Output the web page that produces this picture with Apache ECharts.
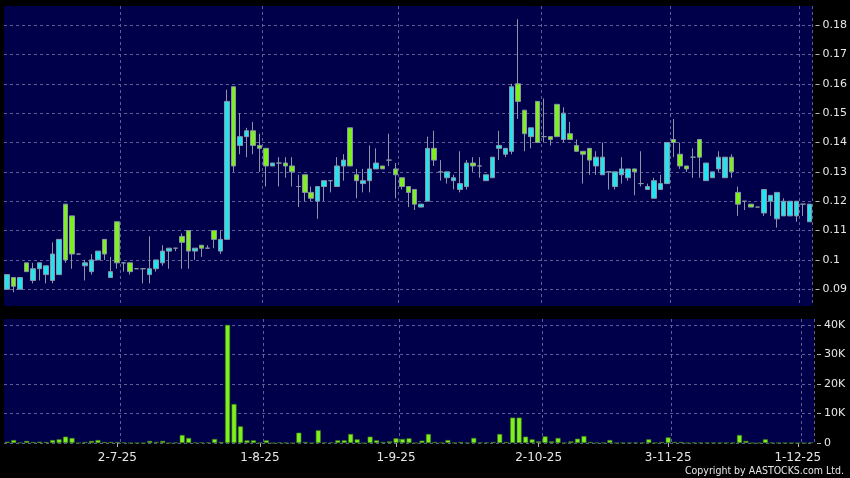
<!DOCTYPE html>
<html><head><meta charset="utf-8">
<script src="https://cdn.jsdelivr.net/npm/echarts@6/dist/echarts.min.js"></script>
<style>html,body{margin:0;padding:0;background:#000;}#c{width:850px;height:478px;}</style>
</head><body><div id="c"></div>
<script>
// Trading days (d-m-yy)
const dates = [
 '6-6-25','9-6-25','10-6-25','11-6-25','12-6-25','13-6-25','16-6-25','17-6-25','18-6-25','19-6-25','20-6-25','23-6-25','24-6-25','25-6-25','26-6-25','27-6-25','30-6-25',
 '2-7-25','3-7-25','4-7-25','7-7-25','8-7-25','9-7-25','10-7-25','11-7-25','14-7-25','15-7-25','16-7-25','17-7-25','18-7-25','21-7-25','22-7-25','23-7-25','24-7-25','25-7-25','28-7-25','29-7-25','30-7-25','31-7-25',
 '1-8-25','4-8-25','5-8-25','6-8-25','7-8-25','8-8-25','11-8-25','12-8-25','13-8-25','14-8-25','15-8-25','18-8-25','19-8-25','20-8-25','21-8-25','22-8-25','25-8-25','26-8-25','27-8-25','28-8-25','29-8-25',
 '1-9-25','2-9-25','3-9-25','4-9-25','5-9-25','8-9-25','9-9-25','10-9-25','11-9-25','12-9-25','15-9-25','16-9-25','17-9-25','18-9-25','19-9-25','22-9-25','23-9-25','24-9-25','25-9-25','26-9-25','29-9-25','30-9-25',
 '2-10-25','3-10-25','6-10-25','8-10-25','9-10-25','10-10-25','13-10-25','14-10-25','15-10-25','16-10-25','17-10-25','20-10-25','21-10-25','22-10-25','23-10-25','24-10-25','27-10-25','28-10-25','30-10-25','31-10-25',
 '3-11-25','4-11-25','5-11-25','6-11-25','7-11-25','10-11-25','11-11-25','12-11-25','13-11-25','14-11-25','17-11-25','18-11-25','19-11-25','20-11-25','21-11-25','24-11-25','25-11-25','26-11-25','27-11-25','28-11-25',
 '1-12-25','2-12-25','3-12-25'
];
const opens = [
 0.090,0.094,0.090,0.099,0.093,0.097,0.095,0.093,0.095,0.119,0.115,0.102,0.098,0.096,0.100,0.107,0.094,
 0.113,0.099,0.099,0.097,0.097,0.095,0.097,0.099,0.103,0.104,0.108,0.110,0.103,0.105,0.104,0.110,0.103,0.107,0.159,0.139,0.142,0.144,
 0.139,0.138,0.132,0.133,0.133,0.132,0.125,0.129,0.123,0.120,0.125,0.127,0.125,0.132,0.145,0.129,0.126,0.127,0.131,0.132,0.134,
 0.131,0.128,0.125,0.124,0.118,0.120,0.138,0.130,0.128,0.127,0.124,0.125,0.133,0.132,0.127,0.128,0.138,0.136,0.137,0.160,0.151,0.142,
 0.154,0.142,0.142,0.153,0.141,0.143,0.139,0.137,0.138,0.132,0.129,0.130,0.125,0.129,0.128,0.131,0.126,0.124,0.121,0.124,
 0.126,0.141,0.136,0.132,0.135,0.141,0.127,0.128,0.131,0.128,0.135,0.123,0.120,0.119,0.118,0.116,0.120,0.114,0.115,0.115,
 0.115,0.119,0.113
];
const closes = [
 0.095,0.091,0.094,0.096,0.097,0.099,0.098,0.102,0.107,0.100,0.102,0.102,0.099,0.100,0.103,0.102,0.096,
 0.099,0.099,0.096,0.097,0.097,0.097,0.100,0.103,0.104,0.104,0.106,0.103,0.104,0.104,0.104,0.107,0.107,0.154,0.132,0.142,0.144,0.139,
 0.138,0.132,0.133,0.133,0.132,0.130,0.125,0.123,0.121,0.125,0.127,0.127,0.132,0.134,0.132,0.127,0.127,0.131,0.133,0.131,0.134,
 0.129,0.125,0.123,0.119,0.119,0.138,0.134,0.130,0.130,0.128,0.126,0.133,0.132,0.132,0.129,0.135,0.139,0.138,0.159,0.154,0.143,0.145,
 0.140,0.142,0.141,0.142,0.150,0.141,0.137,0.136,0.134,0.135,0.135,0.130,0.130,0.131,0.131,0.130,0.126,0.125,0.127,0.126,
 0.140,0.140,0.132,0.131,0.135,0.135,0.133,0.130,0.135,0.135,0.130,0.119,0.120,0.118,0.118,0.124,0.122,0.123,0.120,0.120,
 0.120,0.119,0.119
];
const lows = [
 0.090,0.089,0.090,0.096,0.092,0.093,0.092,0.092,0.095,0.099,0.097,0.102,0.093,0.095,0.100,0.100,0.094,
 0.097,0.096,0.095,0.097,0.092,0.092,0.096,0.098,0.097,0.103,0.097,0.097,0.100,0.101,0.104,0.104,0.102,0.107,0.130,0.136,0.135,0.136,
 0.130,0.125,0.132,0.125,0.128,0.125,0.118,0.120,0.120,0.114,0.120,0.123,0.125,0.127,0.132,0.121,0.123,0.123,0.131,0.131,0.132,
 0.121,0.124,0.118,0.117,0.118,0.120,0.132,0.127,0.126,0.124,0.123,0.124,0.130,0.128,0.127,0.128,0.134,0.135,0.136,0.148,0.137,0.138,
 0.140,0.140,0.139,0.142,0.140,0.141,0.137,0.126,0.129,0.129,0.129,0.124,0.124,0.126,0.127,0.122,0.125,0.124,0.121,0.124,
 0.126,0.135,0.131,0.130,0.128,0.128,0.127,0.128,0.130,0.128,0.128,0.115,0.117,0.118,0.118,0.115,0.115,0.111,0.115,0.115,
 0.113,0.115,0.113
];
const highs = [
 0.095,0.094,0.094,0.099,0.099,0.099,0.098,0.106,0.107,0.119,0.115,0.102,0.100,0.102,0.103,0.107,0.101,
 0.113,0.099,0.099,0.097,0.097,0.108,0.100,0.105,0.104,0.104,0.109,0.110,0.104,0.105,0.105,0.110,0.110,0.158,0.159,0.150,0.145,0.147,
 0.143,0.138,0.133,0.135,0.135,0.135,0.129,0.129,0.125,0.125,0.127,0.127,0.135,0.136,0.145,0.131,0.131,0.139,0.138,0.132,0.143,
 0.133,0.128,0.125,0.124,0.119,0.142,0.144,0.134,0.130,0.129,0.137,0.134,0.135,0.135,0.129,0.135,0.144,0.138,0.160,0.182,0.151,0.145,
 0.154,0.155,0.142,0.153,0.152,0.147,0.141,0.137,0.138,0.137,0.140,0.130,0.130,0.135,0.131,0.131,0.137,0.126,0.128,0.129,
 0.140,0.148,0.140,0.132,0.138,0.141,0.133,0.130,0.137,0.135,0.136,0.125,0.120,0.119,0.118,0.124,0.122,0.123,0.121,0.120,
 0.120,0.119,0.119
];
const volumes = [
 450,1000,200,700,350,450,350,1000,1250,2150,1700,0,350,700,1000,350,350,
 350,200,0,0,0,700,350,700,0,150,2700,1700,200,200,200,1350,350,40000,13200,5650,900,900,
 100,900,0,200,100,0,3500,350,0,4300,200,200,900,900,3050,1250,0,2150,900,350,550,
 1600,1350,1600,0,800,3050,350,200,1000,100,350,100,1700,200,200,350,3050,350,8600,8600,2150,1250,
 550,2250,550,1700,100,550,1450,2350,350,100,100,1000,0,100,100,200,100,1250,100,350,
 1900,350,350,0,100,100,100,100,100,100,100,2700,700,0,0,1250,100,100,0,0,
 0,0,200
];
const dateLabels = ['2-7-25','1-8-25','1-9-25','2-10-25','3-11-25','1-12-25'];
const priceTicks = [0.09,0.10,0.11,0.12,0.13,0.14,0.15,0.16,0.17,0.18];
const volumeTicks = [0,10000,20000,30000,40000];

const candles = dates.map((d,i)=>[opens[i],closes[i],lows[i],highs[i]]);
const isLabel = i => i >= 0 && i < dates.length && dateLabels.includes(dates[i]);

const NAVY = '#00004a';
const GRIDC = '#5e5e96';
const TXT = '#e6e6e6';
const FONT = 'DejaVu Sans';
const dashed = {show:true, interval:(i)=>isLabel(i-1), lineStyle:{color:GRIDC, type:[3,3], width:1}};
const hDashed = {show:true, lineStyle:{color:GRIDC, type:[3,3], width:1}};

const chart = echarts.init(document.getElementById('c'), null, {renderer:'canvas'});
chart.setOption({
  backgroundColor:'#000000',
  animation:false,
  grid:[
    {left:4, right:36, top:6, height:300, show:true, backgroundColor:NAVY, borderWidth:0},
    {left:4, right:36, top:319, height:124, show:true, backgroundColor:NAVY, borderWidth:0}
  ],
  xAxis:[
    {type:'category', gridIndex:0, data:dates, boundaryGap:true,
     axisLine:{show:false}, axisTick:{show:false}, axisLabel:{show:false}, splitLine:dashed},
    {type:'category', gridIndex:1, data:dates, boundaryGap:true, offset:3,
     axisLine:{show:false},
     axisTick:{show:true, alignWithLabel:true, interval:(i)=>isLabel(i), length:4, lineStyle:{color:'#b4b4b4'}},
     axisLabel:{interval:(i,v)=>dateLabels.includes(v), color:TXT, fontSize:12, fontFamily:FONT, margin:6},
     splitLine:dashed}
  ],
  yAxis:[
    {type:'value', gridIndex:0, position:'right', min:0.0843, max:0.1865, splitNumber:10, offset:3,
     axisLine:{show:false},
     axisTick:{show:true, length:4, customValues:priceTicks, lineStyle:{color:'#b4b4b4'}},
     axisLabel:{customValues:priceTicks, color:TXT, fontSize:11, fontFamily:FONT, margin:7},
     splitLine:hDashed},
    {type:'value', gridIndex:1, position:'right', min:0, max:42000, offset:3,
     axisLine:{show:false},
     axisTick:{show:true, length:4, customValues:volumeTicks, lineStyle:{color:'#b4b4b4'}},
     axisLabel:{customValues:volumeTicks, color:TXT, fontSize:11, fontFamily:FONT, margin:7,
       formatter:v=> v===0 ? '0' : (v/1000)+'K'},
     splitLine:hDashed}
  ],
  series:[
    {type:'candlestick', xAxisIndex:0, yAxisIndex:0, data:candles, barWidth:5,
     itemStyle:{color:'#22e4f0', color0:'#7ef01e', borderColor:'#8a96a6', borderColor0:'#8a96a6', borderColorDoji:'#8a96a6', borderWidth:1}},
    {type:'bar', xAxisIndex:1, yAxisIndex:1, data:volumes, barWidth:5,
     itemStyle:{color:'#7ef01e', borderColor:'#3d7d14', borderWidth:0.6}}
  ],
  graphic:[
    {type:'text', x:844, y:471, style:{text:'Copyright by AASTOCKS.com Ltd.', fill:TXT,
      font:'10.5px "DejaVu Sans Condensed", "Liberation Sans Narrow", "DejaVu Sans", sans-serif', textAlign:'right', textVerticalAlign:'middle'}}
  ]
});
</script></body></html>
